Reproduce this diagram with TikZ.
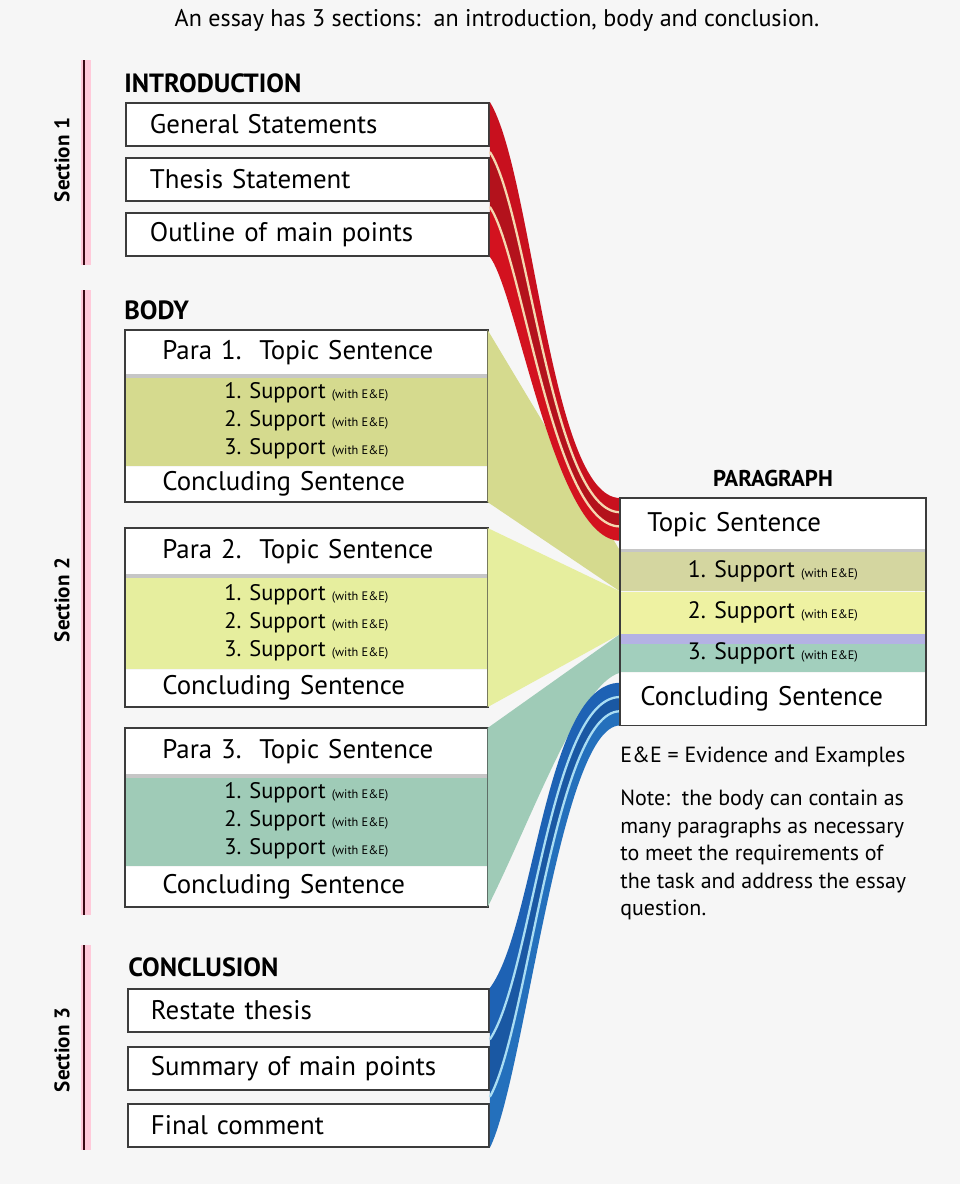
\documentclass[tikz,border=0pt]{standalone}
\usepackage{fontspec}
\setmainfont{PT Sans}
\usepackage{tikz}
\usetikzlibrary{positioning}
\usetikzlibrary{calc}

\definecolor{bgc}{HTML}{F6F6F6}
\definecolor{edgegray}{HTML}{3C3C3C}
\definecolor{olivefill}{HTML}{D5DA8E}
\definecolor{yellowfill}{HTML}{E6EE9E}
\definecolor{tealfill}{HTML}{9FCBB7}
\definecolor{psupa}{HTML}{D4D6A0}
\definecolor{psupb}{HTML}{EEF2A2}
\definecolor{psupc}{HTML}{A2CFBD}
\definecolor{lav}{HTML}{B4B2E4}
\definecolor{reda}{HTML}{C8101E}
\definecolor{redb}{HTML}{B3121C}
\definecolor{redc}{HTML}{D3121F}
\definecolor{cream}{HTML}{F5D8B0}
\definecolor{bluea}{HTML}{1E62B4}
\definecolor{blueb}{HTML}{1A58A3}
\definecolor{bluec}{HTML}{2470BC}
\definecolor{lightblue}{HTML}{A9DDF3}
\definecolor{secdark}{HTML}{3A0A14}
\definecolor{secglow}{HTML}{FFCADA}

\newcommand{\supline}[1]{#1. Support {\fontsize{7}{8}\selectfont (with E\&E)}}

\tikzset{
  boxline/.style={draw=edgegray, line width=1.1pt},
  listbox/.style={boxline, fill=white, minimum height=0.86cm, text width=6.3cm,
    inner xsep=0.48cm, inner ysep=0pt, align=left, font=\fontsize{15.3}{18}\selectfont},
  heading/.style={font=\fontsize{15}{18}\selectfont\bfseries, inner sep=0pt},
  pararow/.style={minimum width=7.24cm, text width=5.76cm, inner xsep=0.74cm,
    inner ysep=0pt, align=left, font=\fontsize{15.3}{18}\selectfont},
  suprow/.style={minimum width=7.24cm, inner ysep=0pt, align=center,
    font=\fontsize{12.8}{16}\selectfont},
  prow/.style={minimum width=6.1cm, text width=5.02cm, inner xsep=0.54cm,
    inner ysep=0pt, align=left, font=\fontsize{15.3}{18}\selectfont},
  psup/.style={minimum width=6.1cm, inner ysep=0pt, align=center,
    font=\fontsize{13.5}{16}\selectfont},
  seclabel/.style={rotate=90, font=\fontsize{12}{14}\selectfont\bfseries},
  secglowline/.style={secglow, line width=6pt},
  secmainline/.style={secdark, line width=1.4pt}
}

\begin{document}
\begin{tikzpicture}[x=0.02cm, y=-0.02cm]
\useasboundingbox (0,0) rectangle (960,1184);
\fill[bgc] (0,0) rectangle (960,1184);

% title
\node[font=\fontsize{13.7}{15}\selectfont] (title) at (497,20) {An essay has 3 sections:\ \ an introduction, body and conclusion.};

% section bars
\draw[secglowline] (86,60) -- (86,265);
\draw[secmainline] (84,60) -- (84,265);
\draw[secglowline] (86,290) -- (86,915);
\draw[secmainline] (84,290) -- (84,915);
\draw[secglowline] (86,945) -- (86,1150);
\draw[secmainline] (84,945) -- (84,1150);
\node[seclabel] (sec1) at (62,160) {Section 1};
\node[seclabel] (sec2) at (62,600) {Section 2};
\node[seclabel] (sec3) at (62,1050) {Section 3};

% introduction
\node[heading, anchor=west] (intro) at (124,83) {INTRODUCTION};
\node[listbox, anchor=north west] (gen) at (125,102) {General Statements};
\node[listbox, below=0.2cm of gen] (thes) {Thesis Statement};
\node[listbox, below=0.2cm of thes] (outl) {Outline of main points};

% body
\node[heading, anchor=west] (body) at (124,310) {BODY};
\node[pararow, anchor=north west, fill=white, minimum height=0.9cm] (p1t) at (125,330) {Para 1.\ \ Topic Sentence};
\node[suprow, fill=olivefill, below=0pt of p1t, minimum height=1.8cm] (p1s) {\supline{1}\\\supline{2}\\\supline{3}};
\node[pararow, fill=white, below=0pt of p1s, minimum height=0.7cm] (p1c) {Concluding Sentence};

\node[pararow, anchor=north west, fill=white, minimum height=0.94cm] (p2t) at (125,528) {Para 2.\ \ Topic Sentence};
\node[suprow, fill=yellowfill, below=0pt of p2t, minimum height=1.86cm] (p2s) {\supline{1}\\\supline{2}\\\supline{3}};
\node[pararow, fill=white, below=0pt of p2s, minimum height=0.74cm] (p2c) {Concluding Sentence};

\node[pararow, anchor=north west, fill=white, minimum height=0.94cm] (p3t) at (125,728) {Para 3.\ \ Topic Sentence};
\node[suprow, fill=tealfill, below=0pt of p3t, minimum height=1.8cm] (p3s) {\supline{1}\\\supline{2}\\\supline{3}};
\node[pararow, fill=white, below=0pt of p3s, minimum height=0.8cm] (p3c) {Concluding Sentence};

\foreach \p in {p1,p2,p3}{
  \draw[gray!45, line width=2.5pt] (\p t.south west) -- (\p t.south east);
  \draw[boxline] (\p t.north west) rectangle (\p c.south east);
}

% conclusion
\node[heading, anchor=west] (concl) at (128,967) {CONCLUSION};
\node[listbox, anchor=north west, inner xsep=0.46cm] (rest) at (127,988) {Restate thesis};
\node[listbox, below=0.26cm of rest, inner xsep=0.46cm] (summ) {Summary of main points};
\node[listbox, below=0.24cm of summ, inner xsep=0.46cm] (fin) {Final comment};

% paragraph model
\node[font=\fontsize{13}{15}\selectfont\bfseries] (phead) at (773,478) {PARAGRAPH};
\node[prow, anchor=north west, fill=white, minimum height=1.04cm] (ptop) at (620,498) {Topic Sentence};
\node[psup, fill=psupa, below=0pt of ptop, minimum height=0.8cm] (psup1) {\supline{1}};
\node[psup, fill=psupb, below=0pt of psup1, minimum height=0.84cm] (psup2) {\supline{2}};
\node[psup, fill=psupc, below=0pt of psup2, minimum height=0.76cm,
  path picture={\fill[lav] (path picture bounding box.north west) rectangle ([yshift=-0.2cm]path picture bounding box.north east);}] (psup3) {\supline{3}};
\node[prow, fill=white, below=0pt of psup3, minimum height=1.04cm, inner xsep=0.4cm, text width=5.3cm] (pcon) {Concluding Sentence};

% fan from the body paragraphs
\fill[olivefill] (p1t.north east) -- (psup1.north west) -- (psup1.south west) -- (p1c.south east) -- cycle;
\fill[yellowfill] (p2t.north east) -- (psup2.north west) -- (psup2.south west) -- (p2c.south east) -- cycle;
\fill[tealfill] (p3t.north east) -- (psup3.north west) -- (psup3.south west)
  .. controls +(-40,10) and +(45,-90) .. (p3c.south east) -- cycle;

% red strands
\coordinate (r0) at (gen.north east);
\coordinate (r1) at ($(gen.south east)!.5!(thes.north east)$);
\coordinate (r2) at ($(thes.south east)!.5!(outl.north east)$);
\coordinate (r3) at (outl.south east);
\coordinate (t0) at (ptop.north west);
\coordinate (t1) at ($(ptop.north west)!.27!(ptop.south west)$);
\coordinate (t2) at ($(ptop.north west)!.54!(ptop.south west)$);
\coordinate (t3) at ($(ptop.north west)!.81!(ptop.south west)$);
\fill[reda] (r0) .. controls +(43,70) and +(-70,0) .. (t0) -- (t1)
  .. controls +(-68,0) and +(38,59) .. (r1) -- cycle;
\fill[redb] (r1) .. controls +(38,59) and +(-68,0) .. (t1) -- (t2)
  .. controls +(-67,0) and +(33,49) .. (r2) -- cycle;
\fill[redc] (r2) .. controls +(33,49) and +(-67,0) .. (t2) -- (t3)
  .. controls +(-65,0) and +(28,38) .. (r3) -- cycle;
\draw[cream, line width=1.3pt] (r1) .. controls +(38,59) and +(-68,0) .. (t1);
\draw[cream, line width=1.3pt] (r2) .. controls +(33,49) and +(-67,0) .. (t2);

% blue strands
\coordinate (b0) at (rest.north east);
\coordinate (b1) at ($(rest.south east)!.5!(summ.north east)$);
\coordinate (b2) at ($(summ.south east)!.5!(fin.north east)$);
\coordinate (b3) at (fin.south east);
\coordinate (c0) at ($(pcon.north west)!.19!(pcon.south west)$);
\coordinate (c1) at ($(pcon.north west)!.46!(pcon.south west)$);
\coordinate (c2) at ($(pcon.north west)!.73!(pcon.south west)$);
\coordinate (c3) at (pcon.south west);
\fill[bluea] (b0) .. controls +(45,-60) and +(-75,0) .. (c0) -- (c1)
  .. controls +(-70,0) and +(42,-63) .. (b1) -- cycle;
\fill[blueb] (b1) .. controls +(42,-63) and +(-70,0) .. (c1) -- (c2)
  .. controls +(-65,0) and +(38,-67) .. (b2) -- cycle;
\fill[bluec] (b2) .. controls +(38,-67) and +(-65,0) .. (c2) -- (c3)
  .. controls +(-60,0) and +(35,-70) .. (b3) -- cycle;
\draw[lightblue, line width=1.3pt] (b1) .. controls +(42,-63) and +(-70,0) .. (c1);
\draw[lightblue, line width=1.3pt] (b2) .. controls +(38,-67) and +(-65,0) .. (c2);

\draw[gray!45, line width=2pt] (ptop.south west) -- (ptop.south east);
\draw[boxline] (ptop.north west) rectangle (pcon.south east);

% notes
\node[anchor=west, inner sep=0pt, font=\fontsize{12.5}{15}\selectfont] (ee) at (620,757) {E\&E = Evidence and Examples};
\node[anchor=north west, align=left, inner sep=0pt, font=\fontsize{12.5}{15.6}\selectfont] (note) at (620,790) {Note:\ \ the body can contain as\\many paragraphs as necessary\\to meet the requirements of\\the task and address the essay\\question.};
\end{tikzpicture}
\end{document}
